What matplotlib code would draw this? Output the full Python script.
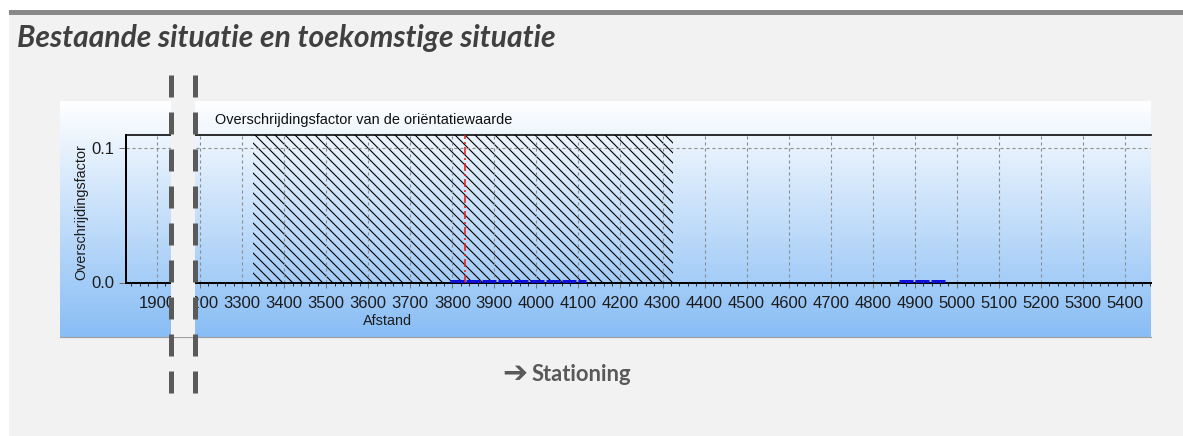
import numpy as np
import matplotlib
matplotlib.use('Agg')
import matplotlib.pyplot as plt
from matplotlib.lines import Line2D
from matplotlib.patches import Rectangle
from matplotlib.ticker import FixedLocator, MultipleLocator, FormatStrFormatter

# ---------------- data ----------------
title = "Bestaande situatie en toekomstige situatie"
chart_title = "Overschrijdingsfactor van de oriëntatiewaarde"
y_label = "Overschrijdingsfactor"
x_label = "Afstand"
footer_arrow = "➔"
footer = "Stationing"

left_ticks = [1900]
right_ticks = list(range(3200, 5500, 100))
y_ticks = [0.0, 0.1]
left_xlim = (1827, 1943)
right_xlim = (3176, 5462)
y_lim = (0.0, 0.1094)

hatch_start = 3326
hatch_end = 4324
red_line_x = 3831
blue_starts = [3794, 4862]
blue_ends = [4119, 4973]
blue_values = [0.0008, 0.0008]

# ---------------- figure ----------------
W, H = 1183, 436
DPI = 120
PT = 72 / DPI  # px -> pt
BS = chr(92)
plt.rcParams['lines.scale_dashes'] = False
plt.rcParams['hatch.linewidth'] = 1.1 * PT

fig = plt.figure(figsize=(W / DPI, H / DPI), dpi=DPI, facecolor='white')


def fx(x):
    return x / W


def fy(y):
    return 1 - y / H


def rect(x0, y0, x1, y1):
    return [fx(x0), fy(y1), fx(x1) - fx(x0), fy(y0) - fy(y1)]


# page background and top bar
fig.patches.append(Rectangle((fx(9), 0), 1 - fx(9), fy(15), transform=fig.transFigure,
                             facecolor='#f2f2f2', edgecolor='none', zorder=-10))
fig.patches.append(Rectangle((fx(9), fy(15)), 1 - fx(9), fy(10) - fy(15), transform=fig.transFigure,
                             facecolor='#898989', edgecolor='none', zorder=-9))

# gradient panel
bg = fig.add_axes(rect(60, 101, 1151, 337), zorder=-5)
bg.axis('off')
top_c = np.array([1.0, 1.0, 1.0])
bot_c = np.array([136, 189, 245]) / 255
t = np.linspace(0, 1, 256)[:, None]
grad = top_c * (1 - t) + bot_c * t
bg.imshow(grad[:, None, :], aspect='auto', extent=(0, 1, 0, 1), origin='upper')
fig.lines.append(Line2D([fx(60), fx(1151)], [fy(337), fy(337)], transform=fig.transFigure,
                        color='#a0a0a0', lw=1.2 * PT, zorder=-4))

# data axes (broken x axis)
ax1 = fig.add_axes(rect(126, 135, 175, 282.5))
ax2 = fig.add_axes(rect(190, 135, 1151, 282.5))

TICK_SIZE = 10.0
for ax in (ax1, ax2):
    ax.patch.set_alpha(0)
    ax.set_ylim(*y_lim)
    ax.yaxis.set_major_locator(FixedLocator(y_ticks))
    ax.yaxis.set_major_formatter(FormatStrFormatter('%.1f'))
    ax.xaxis.set_minor_locator(MultipleLocator(20))
    ax.spines['right'].set_visible(False)
    ax.spines['top'].set_color('black')
    ax.spines['top'].set_linewidth(1.6 * PT)
    ax.spines['bottom'].set_color('black')
    ax.spines['bottom'].set_linewidth(2.0 * PT)
    ax.spines['bottom'].set_linestyle((0, (3 * PT, 1 * PT)))
    ax.grid(True, which='major', color='#8a8a8a', lw=1.1 * PT, linestyle=(0, (3 * PT, 3 * PT)))
    ax.tick_params(axis='x', which='major', direction='out', length=3, width=1 * PT,
                   color='#707070', pad=4.8, labelsize=TICK_SIZE, labelcolor='#1c1c1c')
    ax.tick_params(axis='x', which='minor', direction='out', length=2, width=1 * PT, color='#303030')
    ax.tick_params(axis='y', direction='out', length=4 * PT * 1.67, width=1 * PT, color='#707070',
                   pad=3, labelsize=TICK_SIZE, labelcolor='#1c1c1c')

ax1.set_xlim(*left_xlim)
ax1.xaxis.set_major_locator(FixedLocator(left_ticks))
ax1.spines['left'].set_color('black')
ax1.spines['left'].set_linewidth(2.0 * PT)

ax2.set_xlim(*right_xlim)
ax2.xaxis.set_major_locator(FixedLocator(right_ticks))
ax2.spines['left'].set_visible(False)
ax2.tick_params(axis='y', left=False, labelleft=False)

for ax in (ax1, ax2):
    for lab in ax.get_xticklabels() + ax.get_yticklabels():
        lab.set_family('Liberation Sans')

# hatched zone
ax2.axvspan(hatch_start, hatch_end, ymin=0, ymax=1, facecolor='none', edgecolor='black',
            hatch=BS * 4, linewidth=0, zorder=1.5)
# red dash-dot marker
ax2.axvline(red_line_x, color='#ee1c1c', lw=1.6 * PT,
            linestyle=(0, (8 * PT, 3 * PT, 2 * PT, 3 * PT)), zorder=3)
# blue data segments
ax2.hlines(blue_values, blue_starts, blue_ends, colors='#1010d8', lw=3 * PT,
           linestyles=[(0, (14 * PT, 2 * PT))], zorder=4, clip_on=False)

# texts
fig.text(fx(17), fy(47), title, family='Lato', style='italic', weight='bold',
         size=30 * PT, color='#404040', va='baseline', ha='left')
fig.text(fx(215), fy(120), chart_title, family='Liberation Sans', size=8.7,
         color='#101010', va='center', ha='left')
fig.text(fx(81), fy(212), y_label, family='Liberation Sans', size=8.6,
         color='#1c1c1c', va='center', ha='center', rotation=90)
fig.text(fx(387), fy(321), x_label, family='Liberation Sans', size=8.6,
         color='#1c1c1c', va='center', ha='center')
fig.text(fx(515), fy(374), footer_arrow, family='DejaVu Sans', weight='bold',
         size=30 * PT, color='#595959', va='center', ha='center')
fig.text(fx(532), fy(381), footer, family='Lato', weight='bold',
         size=22 * PT, color='#595959', va='baseline', ha='left')

# axis break band with dashed separators
fig.patches.append(Rectangle((fx(170.5), fy(337)), fx(195) - fx(170.5), fy(101) - fy(337),
                             transform=fig.transFigure, facecolor='#f2f2f2', edgecolor='none', zorder=5))
for xs in (170.5, 194.8):
    fig.lines.append(Line2D([fx(xs), fx(xs)], [fy(75), fy(393)], transform=fig.transFigure,
                            color='#5a5a5a', lw=5 * PT, linestyle=(0, (22 * PT, 15 * PT)),
                            dash_capstyle='butt', zorder=6))

fig.savefig('out.png', dpi=DPI)
